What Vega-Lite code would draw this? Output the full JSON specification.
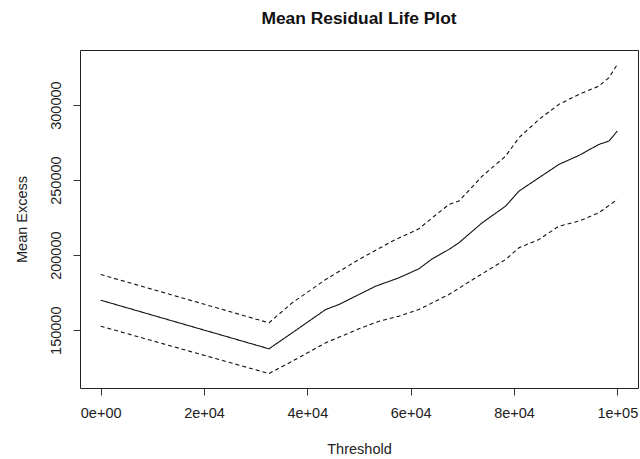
{
  "$schema": "https://vega.github.io/schema/vega-lite/v6.json",
  "autosize": {"type": "none"},
  "width": 558,
  "height": 338,
  "padding": {"left": 80, "top": 50, "right": 2, "bottom": 71},
  "background": "white",
  "title": {
    "text": "Mean Residual Life Plot",
    "font": "Liberation Sans",
    "fontSize": 17.4,
    "fontWeight": "bold",
    "color": "#111",
    "anchor": "middle",
    "baseline": "alphabetic",
    "offset": 9
  },
  "config": {
    "view": {"stroke": "#222", "strokeWidth": 1},
    "axis": {
      "grid": false,
      "domain": false,
      "tickColor": "#333",
      "tickSize": 7,
      "tickWidth": 1,
      "labelFont": "Liberation Sans",
      "labelFontSize": 14.5,
      "labelColor": "#222",
      "titleFont": "Liberation Sans",
      "titleFontSize": 14.5,
      "titleFontWeight": "normal",
      "titleColor": "#222"
    }
  },
  "data": {
    "values": [
      {"threshold": 0, "excess": 170000, "series": "mean"},
      {"threshold": 32570, "excess": 137600, "series": "mean"},
      {"threshold": 37080, "excess": 148270, "series": "mean"},
      {"threshold": 43550, "excess": 163800, "series": "mean"},
      {"threshold": 46120, "excess": 167130, "series": "mean"},
      {"threshold": 49990, "excess": 173800, "series": "mean"},
      {"threshold": 53220, "excess": 179330, "series": "mean"},
      {"threshold": 57730, "excess": 184930, "series": "mean"},
      {"threshold": 61600, "excess": 190930, "series": "mean"},
      {"threshold": 64180, "excess": 197600, "series": "mean"},
      {"threshold": 67410, "excess": 203800, "series": "mean"},
      {"threshold": 69340, "excess": 208270, "series": "mean"},
      {"threshold": 73850, "excess": 221600, "series": "mean"},
      {"threshold": 78380, "excess": 232670, "series": "mean"},
      {"threshold": 80960, "excess": 242670, "series": "mean"},
      {"threshold": 84830, "excess": 251600, "series": "mean"},
      {"threshold": 88700, "excess": 260470, "series": "mean"},
      {"threshold": 92570, "excess": 266470, "series": "mean"},
      {"threshold": 96440, "excess": 273800, "series": "mean"},
      {"threshold": 98370, "excess": 276000, "series": "mean"},
      {"threshold": 100000, "excess": 282670, "series": "mean"},

      {"threshold": 0, "excess": 187130, "series": "upper"},
      {"threshold": 32570, "excess": 154930, "series": "upper"},
      {"threshold": 37080, "excess": 168270, "series": "upper"},
      {"threshold": 43550, "excess": 183800, "series": "upper"},
      {"threshold": 49990, "excess": 197130, "series": "upper"},
      {"threshold": 56440, "excess": 209330, "series": "upper"},
      {"threshold": 61600, "excess": 217600, "series": "upper"},
      {"threshold": 64180, "excess": 224930, "series": "upper"},
      {"threshold": 67410, "excess": 233800, "series": "upper"},
      {"threshold": 69340, "excess": 236000, "series": "upper"},
      {"threshold": 73850, "excess": 252670, "series": "upper"},
      {"threshold": 78380, "excess": 266000, "series": "upper"},
      {"threshold": 80960, "excess": 278270, "series": "upper"},
      {"threshold": 84830, "excess": 290470, "series": "upper"},
      {"threshold": 88700, "excess": 300470, "series": "upper"},
      {"threshold": 92570, "excess": 307130, "series": "upper"},
      {"threshold": 96440, "excess": 312670, "series": "upper"},
      {"threshold": 98370, "excess": 318270, "series": "upper"},
      {"threshold": 100000, "excess": 327130, "series": "upper"},

      {"threshold": 0, "excess": 152670, "series": "lower"},
      {"threshold": 32570, "excess": 121130, "series": "lower"},
      {"threshold": 37080, "excess": 129330, "series": "lower"},
      {"threshold": 43550, "excess": 141600, "series": "lower"},
      {"threshold": 49990, "excess": 150930, "series": "lower"},
      {"threshold": 53860, "excess": 156000, "series": "lower"},
      {"threshold": 57730, "excess": 159330, "series": "lower"},
      {"threshold": 61600, "excess": 163800, "series": "lower"},
      {"threshold": 67410, "excess": 173800, "series": "lower"},
      {"threshold": 72560, "excess": 184930, "series": "lower"},
      {"threshold": 78380, "excess": 197130, "series": "lower"},
      {"threshold": 80960, "excess": 204930, "series": "lower"},
      {"threshold": 84830, "excess": 210470, "series": "lower"},
      {"threshold": 88700, "excess": 219330, "series": "lower"},
      {"threshold": 92570, "excess": 222670, "series": "lower"},
      {"threshold": 96440, "excess": 228270, "series": "lower"},
      {"threshold": 100000, "excess": 237130, "series": "lower"}
    ]
  },
  "mark": {"type": "line", "color": "#111", "strokeWidth": 1.1, "clip": true},
  "encoding": {
    "x": {
      "field": "threshold",
      "type": "quantitative",
      "scale": {"domain": [-4000, 104000], "nice": false, "zero": false},
      "axis": {
        "title": "Threshold",
        "values": [0, 20000, 40000, 60000, 80000, 100000],
        "labelExpr": "datum.value == 0 ? '0e+00' : (datum.value == 100000 ? '1e+05' : (datum.value / 10000) + 'e+04')",
        "labelPadding": 11,
        "titlePadding": 23,
        "labelFlush": false
      }
    },
    "y": {
      "field": "excess",
      "type": "quantitative",
      "scale": {"domain": [111500, 336700], "nice": false, "zero": false},
      "axis": {
        "title": "Mean Excess",
        "values": [150000, 200000, 250000, 300000],
        "format": "d",
        "labelAngle": 270,
        "labelAlign": "center",
        "labelBaseline": "bottom",
        "labelPadding": 10,
        "titlePadding": 19,
        "labelFlush": false
      }
    },
    "strokeDash": {
      "field": "series",
      "type": "nominal",
      "scale": {"domain": ["mean", "upper", "lower"], "range": [[1, 0], [4, 3], [4, 3]]},
      "legend": null
    }
  }
}
